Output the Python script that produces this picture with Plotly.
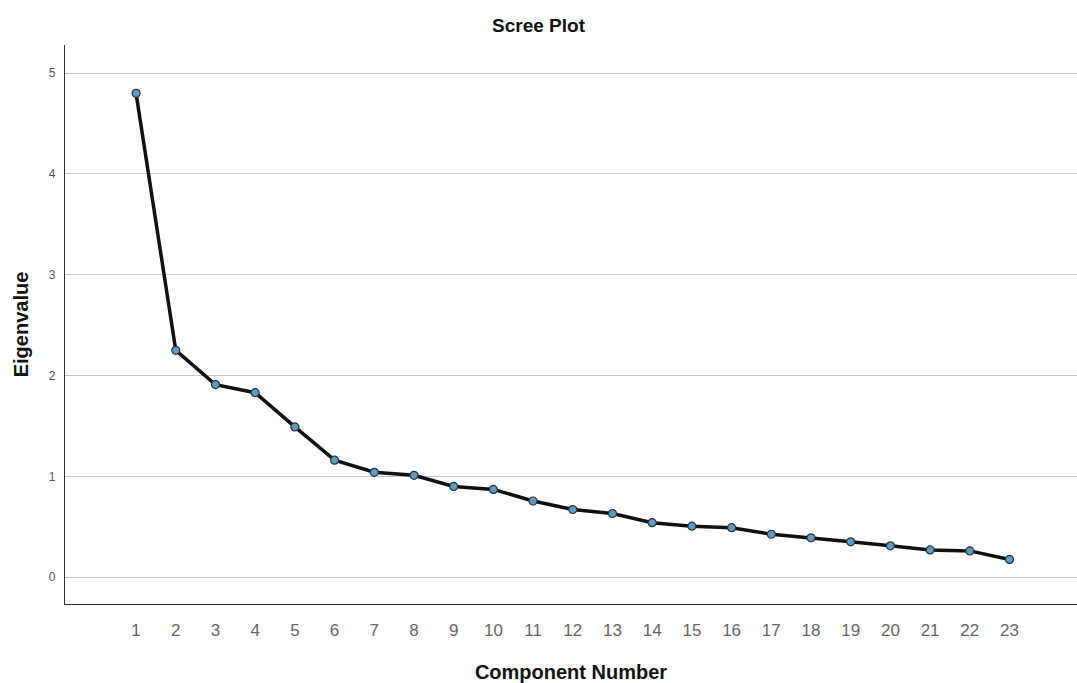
import plotly.graph_objects as go

components = list(range(1, 24))
eigenvalues = [4.80, 2.25, 1.91, 1.83, 1.49, 1.16, 1.04, 1.01, 0.90, 0.87,
               0.755, 0.67, 0.63, 0.54, 0.505, 0.49, 0.425, 0.39, 0.35, 0.31,
               0.27, 0.26, 0.175]
y_ticks = [0, 1, 2, 3, 4, 5]

fig = go.Figure()
fig.add_trace(go.Scatter(
    x=components, y=eigenvalues, mode="lines+markers",
    line=dict(color="#111111", width=3.5),
    marker=dict(size=8, color="#5a9cc4", line=dict(color="#333333", width=1.2)),
    showlegend=False,
))

fig.update_layout(
    width=1077, height=683,
    margin=dict(l=65, r=0, t=45, b=79),
    paper_bgcolor="white", plot_bgcolor="white",
    font=dict(family="Liberation Sans, Arial, sans-serif", color="#222"),
    title=dict(text="<b>Scree Plot</b>", x=0.5, xanchor="center", y=0.963, yanchor="middle",
               font=dict(size=19, color="#111")),
)
fig.update_xaxes(
    range=[-0.79, 24.7], tickmode="array", tickvals=components,
    ticktext=[str(c) for c in components],
    showgrid=False, zeroline=False, showline=True, linecolor="#333", linewidth=1.2,
    ticks="outside", ticklen=10, tickcolor="rgba(0,0,0,0)",
    tickfont=dict(size=17, color="#666"),
    title=dict(text="<b>Component Number</b>", font=dict(size=20, color="#111"), standoff=26),
)
fig.update_yaxes(
    range=[-0.267, 5.28], tickmode="array", tickvals=y_ticks,
    ticktext=[str(v) for v in y_ticks],
    showgrid=True, gridcolor="#c8c8c8", gridwidth=1.2, zeroline=False,
    showline=True, linecolor="#333", linewidth=1.2,
    ticks="outside", ticklen=6, tickcolor="rgba(0,0,0,0)",
    tickfont=dict(size=12, color="#555"),
    title=dict(text="<b>Eigenvalue</b>", font=dict(size=20, color="#111"), standoff=14),
)

fig.write_html("out.html")
